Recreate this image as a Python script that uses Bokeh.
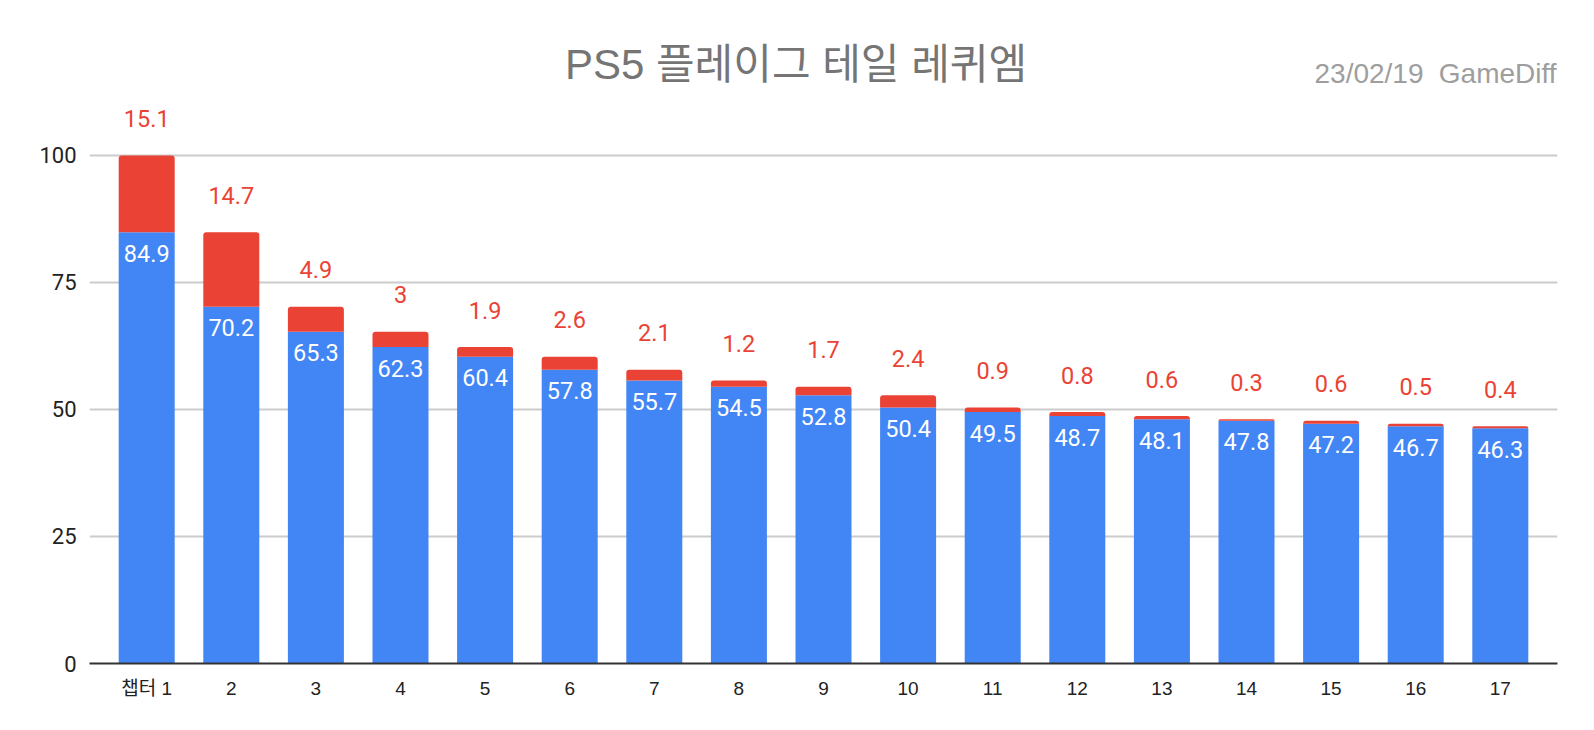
from bokeh.plotting import figure
from bokeh.models import FactorRange, Range1d, FixedTicker, Label, ColumnDataSource
from bokeh.core.properties import value
from bokeh.embed import file_html
from bokeh.resources import INLINE

categories = ["챕터 1"] + [str(i) for i in range(2, 18)]
base_values = [84.9, 70.2, 65.3, 62.3, 60.4, 57.8, 55.7, 54.5, 52.8, 50.4,
               49.5, 48.7, 48.1, 47.8, 47.2, 46.7, 46.3]
extra_values = [15.1, 14.7, 4.9, 3, 1.9, 2.6, 2.1, 1.2, 1.7, 2.4,
                0.9, 0.8, 0.6, 0.3, 0.6, 0.5, 0.4]
y_ticks = [0, 25, 50, 75, 100]
title_text = "PS5 플레이그 테일 레퀴엠"
subtitle_date = "23/02/19"
subtitle_source = "GameDiff"

BLUE = "#4285F4"
RED = "#EA4335"
FONT = "Roboto, Noto Sans CJK KR"
TFONT = "Liberation Sans, Noto Sans CJK KR"

totals = [b + e for b, e in zip(base_values, extra_values)]
src = ColumnDataSource(dict(
    x=categories,
    base=base_values,
    extra=extra_values,
    total=totals,
    zero=[0] * len(categories),
    base_lbl=[f"{v:g}" for v in base_values],
    extra_lbl=[f"{v:g}" for v in extra_values],
))

p = figure(
    x_range=FactorRange(*categories, range_padding=0.0207),
    y_range=Range1d(0, 124.6),
    width=1578, height=714,
    min_border_left=89, min_border_right=21, min_border_top=30, min_border_bottom=51,
    output_backend="svg", toolbar_location=None,
)
p.outline_line_color = None
p.background_fill_color = "white"
p.border_fill_color = "white"

p.vbar(x="x", bottom="zero", top="base", width=0.662, source=src,
       fill_color=BLUE, line_color=None)
p.vbar(x="x", bottom="base", top="total", width=0.662, source=src,
       fill_color=RED, line_color=None, border_radius=(3, 3, 0, 0))

p.text(x="x", y="base", text="base_lbl", source=src, text_color="white",
       text_font=value(FONT), text_font_size="23.5px", text_align="center",
       text_baseline="middle", y_offset=21)
p.text(x="x", y="total", text="extra_lbl", source=src, text_color=RED,
       text_font=value(FONT), text_font_size="23.5px", text_align="center",
       text_baseline="middle", y_offset=-37)

# axes
p.yaxis.ticker = FixedTicker(ticks=y_ticks)
p.yaxis.axis_line_color = None
p.yaxis.major_tick_line_color = None
p.yaxis.major_tick_out = 0
p.yaxis.major_tick_in = 0
p.yaxis.minor_tick_line_color = None
p.yaxis.major_label_text_font = FONT
p.yaxis.major_label_text_font_size = "22px"
p.yaxis.major_label_text_color = "#222222"
p.yaxis.major_label_standoff = 13

p.xaxis.axis_line_color = "#333333"
p.xaxis.axis_line_width = 2
p.xaxis.major_tick_line_color = None
p.xaxis.major_tick_out = 0
p.xaxis.major_tick_in = 0
p.xaxis.minor_tick_line_color = None
p.xaxis.major_label_text_font = "Liberation Sans, Noto Sans CJK KR"
p.xaxis.major_label_text_font_size = "19px"
p.xaxis.major_label_text_color = "#222222"
p.xaxis.major_label_standoff = 14

p.xgrid.grid_line_color = None
p.ygrid.grid_line_color = "#cccccc"
p.ygrid.grid_line_width = 2

p.add_layout(Label(x=8.175, y=117.9, text=title_text, text_align="center",
                   text_baseline="middle", text_font=TFONT, text_font_size="42px",
                   text_color="#757575"))
p.add_layout(Label(x=17.165, y=116.06, text=subtitle_source, text_align="right",
                   text_baseline="middle", text_font="Liberation Sans",
                   text_font_size="28px", text_color="#9e9e9e"))
p.add_layout(Label(x=15.592, y=116.06, text=subtitle_date, text_align="right",
                   text_baseline="middle", text_font="Liberation Sans",
                   text_font_size="28px", text_color="#9e9e9e"))

open("out.html", "w").write(file_html(p, INLINE))
